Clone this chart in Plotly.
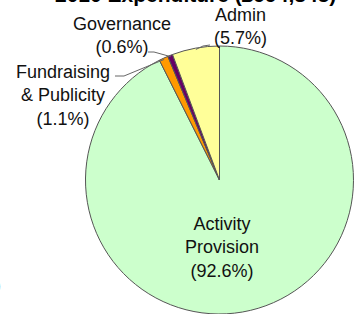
import math
import plotly.graph_objects as go

# ---- data ----
categories = ["Activity Provision", "Fundraising & Publicity", "Governance", "Admin"]
values = [92.6, 1.1, 0.6, 5.7]
label_lines = [["Activity", "Provision"], ["Fundraising", "& Publicity"], ["Governance"], ["Admin"]]
colors = ["#CCFFCC", "#FF9900", "#660066", "#FFFF99"]
title_text = "2010 Expenditure (£994,345)"

W, H = 360, 314
FONT = "Liberation Sans, Arial, sans-serif"

# pie geometry (pixels)
dom_y = [0.0, 268 / H]
R = (dom_y[1] - dom_y[0]) * H / 2
CX = 219.5
CY = H - R + 1
dom_y = [1 / H, 1 / H + 268 / H]
dom_x = [(CX - R) / W, (CX + R) / W]


def px(x, y):
    return x / W, 1 - y / H


def slice_point(idx, rfrac=1.0):
    total = sum(values)
    start = sum(values[:idx]) / total * 360
    mid = start + values[idx] / total * 360 / 2
    a = math.radians(mid)
    return CX + R * rfrac * math.sin(a), CY - R * rfrac * math.cos(a)


fig = go.Figure(go.Pie(
    labels=categories,
    values=values,
    sort=False,
    direction="clockwise",
    rotation=0,
    textinfo="none",
    hoverinfo="skip",
    marker=dict(colors=colors, line=dict(color="#555555", width=1)),
    domain=dict(x=dom_x, y=[0.0, 268 / H]),
    showlegend=False,
))

annotations = []
shapes = []

# label layout (pixel positions of label centers) and leader elbows
label_pos = {0: (222, 247), 1: (63, 96), 2: (122, 36), 3: (240, 27)}
leaders = {1: [(115, 76), (124, 76)], 2: [(148, 52), (154, 52)], 3: [(210, 45), (203, 46)]}

CY = H - R
for i, cat in enumerate(categories):
    pct = values[i]
    text = "<br>".join(label_lines[i] + [f"({pct:.1f}%)"])
    x, y = label_pos[i]
    xp, yp = px(x, y)
    annotations.append(dict(
        x=xp, y=yp, xref="paper", yref="paper", text=text, showarrow=False,
        xanchor="center", yanchor="middle", align="center",
        font=dict(family=FONT, size=18, color="#111111"),
    ))
    if i in leaders:
        pts = leaders[i] + [slice_point(i, 0.99)]
        path = "M " + " L ".join(f"{px(a, b)[0]:.5f},{px(a, b)[1]:.5f}" for a, b in pts)
        shapes.append(dict(type="path", xref="paper", yref="paper", path=path,
                           line=dict(color="#666666", width=1)))

# title (cut off at top edge)
tx, ty = px(196, -6)
annotations.append(dict(
    x=tx, y=ty, xref="paper", yref="paper", text=f"<b>{title_text}</b>", showarrow=False,
    xanchor="center", yanchor="middle", font=dict(family=FONT, size=21, color="#000000"),
))

# fragment of neighbouring label at left edge
fx, fy = px(3, 285)
annotations.append(dict(
    x=fx, y=fy, xref="paper", yref="paper", text=")", showarrow=False,
    xanchor="right", yanchor="middle", font=dict(family=FONT, size=18, color="#111111"),
))

fig.update_layout(
    width=W, height=H,
    margin=dict(l=0, r=0, t=0, b=0),
    paper_bgcolor="white", plot_bgcolor="white",
    annotations=annotations, shapes=shapes,
)

fig.write_html("out.html", config={"displayModeBar": False},
               post_script="document.body.style.margin='0';document.body.style.overflow='hidden';")
